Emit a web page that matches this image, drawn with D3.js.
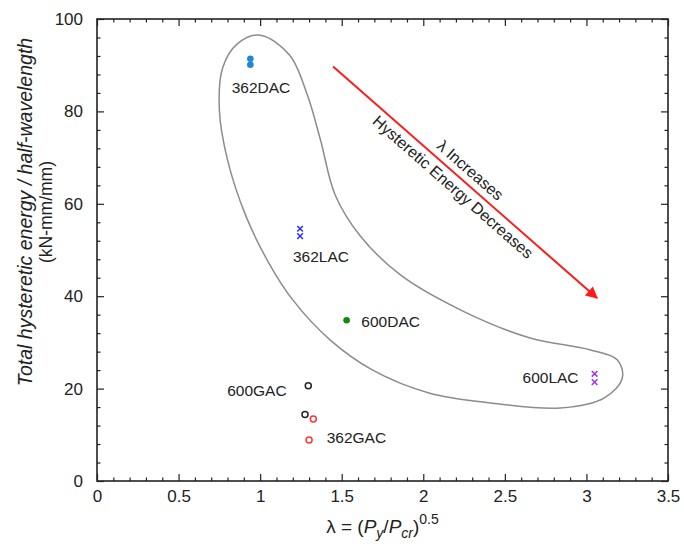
<!DOCTYPE html>
<html>
<head>
<meta charset="utf-8">
<script src="https://cdn.jsdelivr.net/npm/d3@7"></script>
<style>
  body { margin: 0; background: #fff; }
  text { font-family: "Liberation Sans", Arial, sans-serif; fill: #222; }
</style>
</head>
<body>
<div id="chart"></div>
<script>
var svgWidth = 684;
var svgHeight = 552;

// data: lambda and hysteretic energy per specimen
var lam362DAC = [0.94, 0.94];
var hyst362DAC = [91.4, 90.1];
var lam362LAC = [1.245, 1.245];
var hyst362LAC = [54.6, 53.0];
var lam600DAC = [1.53];
var hyst600DAC = [34.8];
var lam600LAC = [3.05, 3.05];
var hyst600LAC = [23.2, 21.4];
var lam600GAC = [1.295, 1.275];
var hyst600GAC = [20.6, 14.4];
var lam362GAC = [1.326, 1.30];
var hyst362GAC = [13.4, 8.9];

var xTicks = [0, 0.5, 1, 1.5, 2, 2.5, 3, 3.5];
var yTicks = [0, 20, 40, 60, 80, 100];

// outline of the grouped specimens, in data units
var loopLam = [1.00, 1.18, 1.29, 1.37, 1.46, 1.61, 1.86, 2.23, 2.65, 3.02, 3.19, 3.22, 3.11, 2.84, 2.41, 2.04, 1.69, 1.43, 1.20, 1.05, 0.91, 0.80, 0.75, 0.77, 0.86];
var loopHyst = [96.5, 92.2, 83.5, 73.8, 61.9, 53.2, 44.6, 37.0, 31.0, 28.4, 26.2, 22.3, 18.0, 15.8, 16.9, 19.0, 24.0, 30.5, 39.2, 47.4, 57.6, 69.5, 80.3, 89.4, 94.6];

var margin = {top: 19, right: 16, bottom: 71, left: 97};
var width = svgWidth - margin.left - margin.right;
var height = svgHeight - margin.top - margin.bottom;

var svg = d3.select("#chart")
  .append("svg")
  .attr("width", svgWidth)
  .attr("height", svgHeight);

var chartGroup = svg.append("g")
  .attr("transform", `translate(${margin.left}, ${margin.top})`);

var xLinearScale = d3.scaleLinear().domain([0, 3.5]).range([0, width]);
var yLinearScale = d3.scaleLinear().domain([0, 100]).range([height, 0]);

var xMinor = d3.range(0, 3.501, 0.1).filter(v => Math.abs(v * 2 - Math.round(v * 2)) > 1e-6);
var yMinor = d3.range(0, 100.01, 4).filter(v => v % 20 !== 0);

function styleAxis(g) {
  g.select(".domain").remove();
  g.selectAll("line").attr("stroke", "#222").attr("stroke-width", 1.2);
  g.selectAll("text").attr("font-size", 17).attr("fill", "#222")
    .attr("font-family", "Liberation Sans, Arial, sans-serif");
}

// bottom
chartGroup.append("g").attr("transform", `translate(0, ${height})`)
  .call(d3.axisBottom(xLinearScale).tickValues(xTicks).tickSize(-7).tickPadding(9).tickFormat(d => d))
  .call(styleAxis);
chartGroup.append("g").attr("transform", `translate(0, ${height})`)
  .call(d3.axisBottom(xLinearScale).tickValues(xMinor).tickSize(-3.5).tickFormat(""))
  .call(styleAxis);
// top
chartGroup.append("g")
  .call(d3.axisTop(xLinearScale).tickValues(xTicks).tickSize(-7).tickFormat(""))
  .call(styleAxis);
chartGroup.append("g")
  .call(d3.axisTop(xLinearScale).tickValues(xMinor).tickSize(-3.5).tickFormat(""))
  .call(styleAxis);
// left
chartGroup.append("g")
  .call(d3.axisLeft(yLinearScale).tickValues(yTicks).tickSize(-7).tickPadding(14).tickFormat(d => d))
  .call(styleAxis);
chartGroup.append("g")
  .call(d3.axisLeft(yLinearScale).tickValues(yMinor).tickSize(-3.5).tickFormat(""))
  .call(styleAxis);
// right
chartGroup.append("g").attr("transform", `translate(${width}, 0)`)
  .call(d3.axisRight(yLinearScale).tickValues(yTicks).tickSize(-7).tickFormat(""))
  .call(styleAxis);
chartGroup.append("g").attr("transform", `translate(${width}, 0)`)
  .call(d3.axisRight(yLinearScale).tickValues(yMinor).tickSize(-3.5).tickFormat(""))
  .call(styleAxis);

chartGroup.append("rect")
  .attr("width", width).attr("height", height)
  .attr("fill", "none").attr("stroke", "#222").attr("stroke-width", 1.6);

// grouping outline
var loopPts = loopLam.map((v, i) => [xLinearScale(v), yLinearScale(loopHyst[i])]);
chartGroup.append("path")
  .attr("d", d3.line().curve(d3.curveCatmullRomClosed.alpha(0.5))(loopPts))
  .attr("fill", "none")
  .attr("stroke", "#8c8c8c")
  .attr("stroke-width", 1.5);

// trend arrow
svg.append("defs").append("marker")
  .attr("id", "head")
  .attr("viewBox", "0 0 10 10")
  .attr("refX", 9).attr("refY", 5)
  .attr("markerWidth", 8).attr("markerHeight", 6)
  .attr("markerUnits", "strokeWidth")
  .attr("orient", "auto")
  .append("path").attr("d", "M0,0L10,5L0,10Z").attr("fill", "#ff1a1a");

var arrowFrom = [1.447, 89.7];
var arrowTo = [3.065, 39.6];
var ax0 = xLinearScale(arrowFrom[0]), ay0 = yLinearScale(arrowFrom[1]);
var ax1 = xLinearScale(arrowTo[0]), ay1 = yLinearScale(arrowTo[1]);
chartGroup.append("line")
  .attr("x1", ax0).attr("y1", ay0).attr("x2", ax1).attr("y2", ay1)
  .attr("stroke", "#ff1a1a").attr("stroke-width", 2)
  .attr("marker-end", "url(#head)");

var angle = Math.atan2(ay1 - ay0, ax1 - ax0) * 180 / Math.PI;
var arrowText = chartGroup.append("g")
  .attr("transform", `translate(${(ax0 + ax1) / 2}, ${(ay0 + ay1) / 2}) rotate(${angle})`);
arrowText.append("text")
  .attr("x", -4).attr("y", -7)
  .attr("text-anchor", "middle").attr("font-size", 16)
  .text("λ Increases");
arrowText.append("text")
  .attr("x", -6).attr("y", 17)
  .attr("text-anchor", "middle").attr("font-size", 16)
  .text("Hysteretic Energy Decreases");

// markers
function xMark(size) {
  return `M${-size},${-size}L${size},${size}M${-size},${size}L${size},${-size}`;
}

var seriesTable = [
  {lam: lam362DAC, hyst: hyst362DAC, kind: "dot", color: "#1f88d6"},
  {lam: lam362LAC, hyst: hyst362LAC, kind: "x", color: "#2b2bff"},
  {lam: lam600DAC, hyst: hyst600DAC, kind: "dot", color: "#118a11"},
  {lam: lam600LAC, hyst: hyst600LAC, kind: "x", color: "#9a33f0"},
  {lam: lam600GAC, hyst: hyst600GAC, kind: "ring", color: "#222222"},
  {lam: lam362GAC, hyst: hyst362GAC, kind: "ring", color: "#ff3333"}
];

seriesTable.forEach(function(s) {
  var pts = s.lam.map((v, i) => ({lam: v, hyst: s.hyst[i]}));
  var g = chartGroup.append("g");
  if (s.kind === "x") {
    g.selectAll("path").data(pts).enter().append("path")
      .attr("transform", d => `translate(${xLinearScale(d.lam)}, ${yLinearScale(d.hyst)})`)
      .attr("d", xMark(2.8))
      .attr("stroke", s.color).attr("stroke-width", 1.5).attr("fill", "none");
  } else {
    g.selectAll("circle").data(pts).enter().append("circle")
      .attr("cx", d => xLinearScale(d.lam))
      .attr("cy", d => yLinearScale(d.hyst))
      .attr("r", s.kind === "dot" ? 3.3 : 3)
      .attr("fill", s.kind === "dot" ? s.color : "none")
      .attr("stroke", s.color)
      .attr("stroke-width", s.kind === "dot" ? 0 : 1.5);
  }
});

// specimen labels
var labelNames = ["362DAC", "362LAC", "600DAC", "600LAC", "600GAC", "362GAC"];
var labelLam = [1.005, 1.373, 1.80, 2.78, 0.98, 1.59];
var labelHyst = [85.1, 48.5, 34.4, 22.3, 19.5, 9.3];

chartGroup.append("g").selectAll("text")
  .data(labelNames).enter().append("text")
  .attr("x", (d, i) => xLinearScale(labelLam[i]))
  .attr("y", (d, i) => yLinearScale(labelHyst[i]))
  .attr("dy", "0.35em")
  .attr("text-anchor", "middle")
  .attr("font-size", 15.5)
  .attr("fill", "#2a2a2a")
  .text(d => d);

// axis titles
var yTitle = svg.append("g").attr("transform", "translate(0, 212) rotate(-90)");
yTitle.append("text")
  .attr("x", 0).attr("y", 32)
  .attr("text-anchor", "middle").attr("font-size", 19.5).attr("font-style", "italic")
  .text("Total hysteretic energy / half-wavelength");
yTitle.append("text")
  .attr("x", 0).attr("y", 52)
  .attr("text-anchor", "middle").attr("font-size", 17.5)
  .text("(kN-mm/mm)");

var xTitle = svg.append("text")
  .attr("x", margin.left + width / 2)
  .attr("y", 533)
  .attr("text-anchor", "middle")
  .attr("font-size", 19);
xTitle.append("tspan").text("λ = (");
xTitle.append("tspan").attr("font-style", "italic").text("P");
xTitle.append("tspan").attr("font-style", "italic").attr("font-size", 14).attr("dy", 5).text("y");
xTitle.append("tspan").attr("dy", -5).text("/");
xTitle.append("tspan").attr("font-style", "italic").text("P");
xTitle.append("tspan").attr("font-style", "italic").attr("font-size", 14).attr("dy", 5).text("cr");
xTitle.append("tspan").attr("dy", -5).text(")");
xTitle.append("tspan").attr("font-size", 14).attr("dy", -9).text("0.5");
</script>
</body>
</html>
